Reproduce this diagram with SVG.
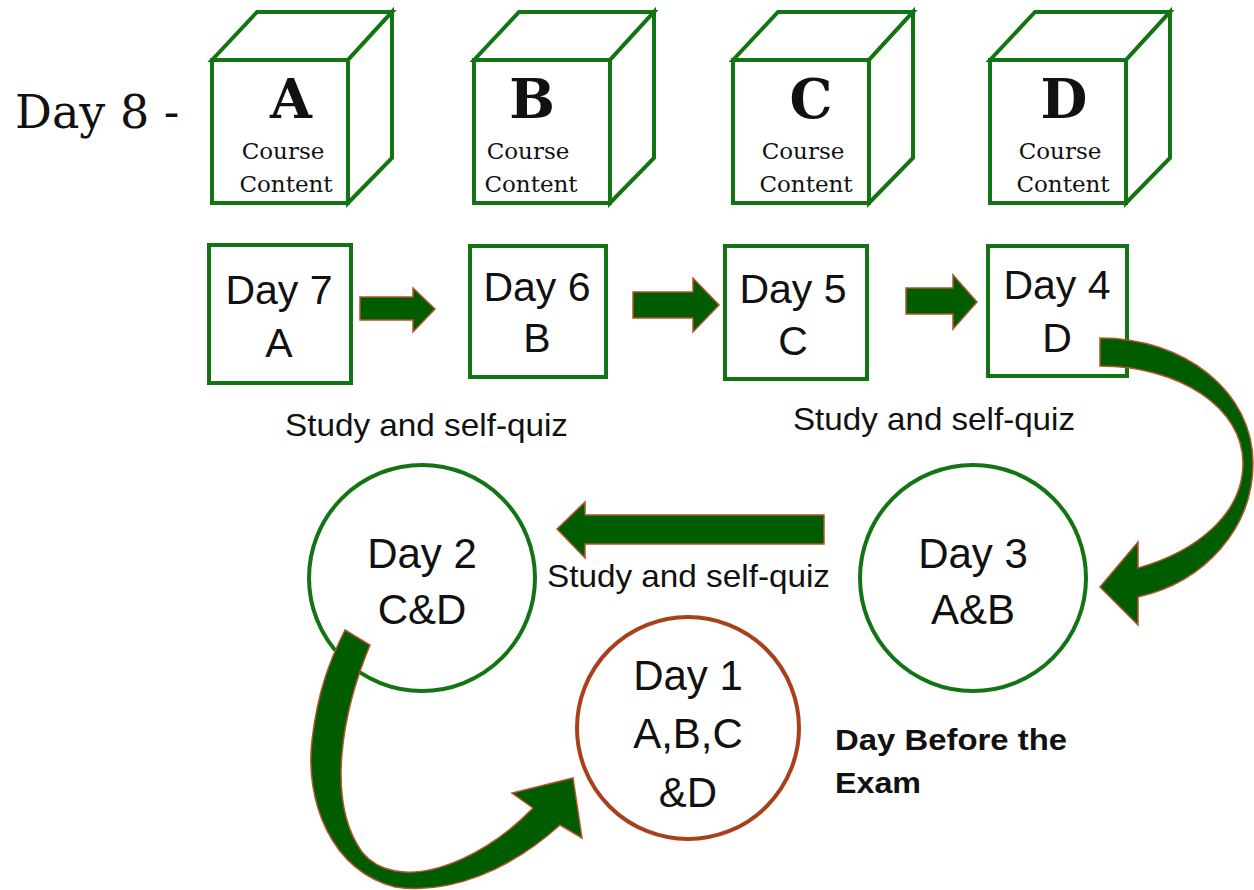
<svg xmlns="http://www.w3.org/2000/svg" xmlns:xlink="http://www.w3.org/1999/xlink" width="1254" height="890" viewBox="0 0 1254 890">
<style>
.cube{fill:#fff;stroke:#137413;stroke-width:4;stroke-linejoin:miter}
.box{fill:#fff;stroke:#137413;stroke-width:4}
.circ{fill:#fff;stroke:#137413;stroke-width:4}
.circ1{fill:#fff;stroke:#a8401c;stroke-width:4}
.arrow{fill:#005c00;stroke:#b4532a;stroke-width:1.5;stroke-linejoin:miter}
.sans{font-family:"Liberation Sans",Arial,sans-serif;fill:#111;text-anchor:middle}
.day{font-size:41px}
.cday{font-size:42px}
.note{font-size:32px;text-anchor:start}
.bold{font-size:30px;font-weight:bold;text-anchor:start}
.serif{font-family:"DejaVu Serif","Liberation Serif",serif;fill:#111;text-anchor:middle}
.letter{font-size:54px;font-weight:bold}
.cc{font-size:23px}
</style>
<defs>
<g id="cubeShape">
<polygon class="cube" points="0,48 45,0 180,0 136,48"/>
<polygon class="cube" points="136,48 180,0 180,146 136,191"/>
<rect class="cube" x="0" y="48" width="136" height="143"/>
</g>
</defs>

<text class="serif" x="15" y="128" style="font-size:46px;text-anchor:start">Day 8 -</text>

<g id="cubeA">
<use xlink:href="#cubeShape" transform="translate(212,12)"/>
<text class="serif letter" x="291" y="118">A</text>
<text class="serif cc" x="283" y="159">Course</text>
<text class="serif cc" x="286" y="192">Content</text>
</g>
<g id="cubeB">
<use xlink:href="#cubeShape" transform="translate(474,12)"/>
<text class="serif letter" x="532" y="118">B</text>
<text class="serif cc" x="528" y="159">Course</text>
<text class="serif cc" x="531" y="192">Content</text>
</g>
<g id="cubeC">
<use xlink:href="#cubeShape" transform="translate(733,12)"/>
<text class="serif letter" x="811" y="118">C</text>
<text class="serif cc" x="803" y="159">Course</text>
<text class="serif cc" x="806" y="192">Content</text>
</g>
<g id="cubeD">
<use xlink:href="#cubeShape" transform="translate(990,12)"/>
<text class="serif letter" x="1064" y="118">D</text>
<text class="serif cc" x="1060" y="159">Course</text>
<text class="serif cc" x="1063" y="192">Content</text>
</g>

<g id="day7">
<rect class="box" x="209" y="245" width="142" height="138"/>
<text class="sans day" x="279" y="304">Day 7</text>
<text class="sans day" x="279" y="357">A</text>
</g>
<g id="day6">
<rect class="box" x="470" y="246" width="136" height="131"/>
<text class="sans day" x="537" y="301">Day 6</text>
<text class="sans day" x="537" y="352">B</text>
</g>
<g id="day5">
<rect class="box" x="725" y="246" width="142" height="133"/>
<text class="sans day" x="793" y="303">Day 5</text>
<text class="sans day" x="793" y="355">C</text>
</g>
<g id="day4">
<rect class="box" x="988" y="246" width="139" height="130"/>
<text class="sans day" x="1057" y="299">Day 4</text>
<text class="sans day" x="1057" y="352">D</text>
</g>

<g id="day3">
<circle class="circ" cx="973" cy="578" r="113"/>
<text class="sans cday" x="973" y="568">Day 3</text>
<text class="sans cday" x="973" y="624">A&amp;B</text>
</g>
<g id="day2">
<circle class="circ" cx="422" cy="578" r="113"/>
<text class="sans cday" x="422" y="568">Day 2</text>
<text class="sans cday" x="422" y="624">C&amp;D</text>
</g>
<g id="day1">
<circle class="circ1" cx="688" cy="728" r="111"/>
<text class="sans cday" x="688" y="690">Day 1</text>
<text class="sans cday" x="688" y="748">A,B,C</text>
<text class="sans cday" x="688" y="807">&amp;D</text>
</g>

<g id="labels">
<text class="sans note" x="285" y="436" textLength="283" lengthAdjust="spacingAndGlyphs">Study and self-quiz</text>
<text class="sans note" x="793" y="430" textLength="282" lengthAdjust="spacingAndGlyphs">Study and self-quiz</text>
<text class="sans note" x="547" y="587" textLength="283" lengthAdjust="spacingAndGlyphs">Study and self-quiz</text>
<text class="sans bold" x="835" y="750" textLength="232" lengthAdjust="spacingAndGlyphs">Day Before the</text>
<text class="sans bold" x="835" y="793" textLength="86" lengthAdjust="spacingAndGlyphs">Exam</text>
</g>

<g id="connectors">
<polygon class="arrow" points="360,297 413,297 413,288 435,309 413,332 413,320 360,320"/>
<polygon class="arrow" points="633,292 693,292 693,278 719,305 693,332 693,318 633,318"/>
<polygon class="arrow" points="906,288 953,288 953,275 977,302 953,329 953,314 906,314"/>
<polygon class="arrow" points="824,515 585,515 585,502 557,529 585,558 585,544 824,544"/>
<path class="arrow" d="M1100,338 C1185,338 1253,392 1253,463 C1253,528 1205,582 1138,597 L1138,625 L1100,587 L1138,542 L1138,568 C1195,552 1243,515 1243,463 C1243,408 1180,366 1100,366 Z"/>
<path class="arrow" d="M345,630 L370,645 C343,710 325,800 362,852 C395,893 475,868 533,808 L512,793 L573,778 L582,838 L560,825 C510,870 450,895 395,887 C330,870 305,800 312,740 C318,690 330,660 345,630 Z"/>
</g>
</svg>
